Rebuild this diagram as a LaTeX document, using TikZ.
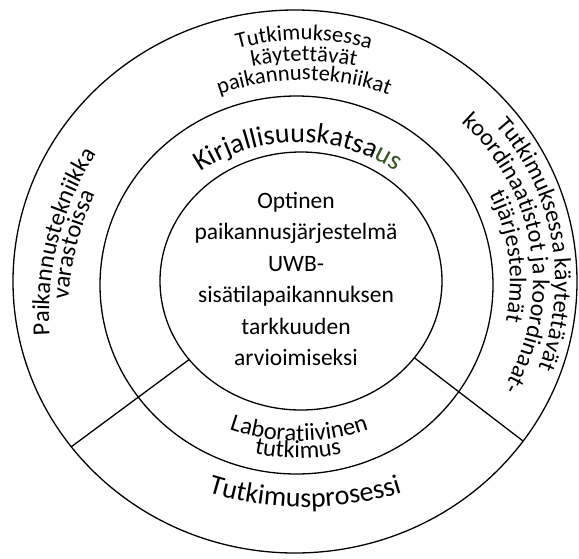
\documentclass[tikz,border=0pt]{standalone}
\usepackage{fontspec}
\setmainfont{Carlito}
\usetikzlibrary{decorations.text,calc}
\definecolor{kgreen}{RGB}{56,87,35}
\newcommand\fsz[1]{\fontsize{#1}{#1}\selectfont}
\begin{document}
\begin{tikzpicture}[x=1pt,y=1pt,
  ring/.style={line width=1.3pt},
  arctext/.style={decorate, decoration={text along path, text align=center, text={#1}}},
  ctext/.style={anchor=base, inner sep=0pt, font=\fsz{23.5}}]
\useasboundingbox (0,0) rectangle (579,-558);
% ellipse centres
\coordinate (O) at (295,-281.5);
\coordinate (M) at (296.5,-285);
\coordinate (I) at (301,-281);
\draw[ring] (O) ellipse [x radius=282, y radius=271.5];
\draw[ring] (M) ellipse [x radius=196.5, y radius=189];
\draw[ring] (I) ellipse [x radius=141, y radius=129];
% dividing lines
\coordinate (la) at ($(I)+(217.5:141 and 129)$);
\coordinate (lb) at ($(O)+(217.5:282 and 271.5)$);
\coordinate (ra) at ($(I)+(-36.5:141 and 129)$);
\coordinate (rb) at ($(O)+(-36:282 and 271.5)$);
\draw[ring] (la) -- (lb);
\draw[ring] (ra) -- (rb);
% top outer text
\coordinate (cT1) at (304,-290);
\coordinate (cT2) at (304,-321);
\coordinate (cT3) at (304,-330);
\path[arctext={|\fsz{22.5}|Tutkimuksessa}] ($(cT1)+(125:250)$) arc[start angle=125, end angle=55, radius=250];
\path[arctext={|\fsz{22.5}|käytettävät}] ($(cT2)+(125:260)$) arc[start angle=125, end angle=55, radius=260];
\path[arctext={|\fsz{22.5}|paikannustekniikat}] ($(cT3)+(130:250)$) arc[start angle=130, end angle=50, radius=250];
% left outer text
\coordinate (cL) at (346,-315);
\path[arctext={|\fsz{24.5}|Paikannustekniikka}] ($(cL)+(196:297)$) arc[start angle=196, end angle=135, radius=297];
\path[arctext={|\fsz{24.5}|varastoissa}] ($(cL)+(196:278)$) arc[start angle=196, end angle=135, radius=278];
% right outer text
\coordinate (cR) at (321,-281);
\path[arctext={|\fsz{24}|Tutkimuksessa käytettävät}] ($(cR)+(60:234)$) arc[start angle=60, end angle=-40, radius=234];
\path[arctext={|\fsz{24}|koordinaatistot ja koordinaat-}] ($(cR)+(60:212)$) arc[start angle=60, end angle=-42, radius=212];
\path[arctext={|\fsz{24}|tijärjestelmät}] ($(cR)+(55:189)$) arc[start angle=55, end angle=-40, radius=189];
% middle ring text
\coordinate (cK) at (298,-317);
\path[arctext={|\fsz{28}|Kirjallisuuskatsa|\fsz{28}\color{kgreen}|us}] ($(cK)+(145:175)$) arc[start angle=145, end angle=35, radius=175];
\coordinate (cLab) at (299,-231);
\coordinate (cTut) at (298,-238);
\path[arctext={|\fsz{24.5}|Laboratiivinen}] ($(cLab)+(225:210)$) arc[start angle=225, end angle=315, radius=210];
\path[arctext={|\fsz{24.5}|tutkimus}] ($(cTut)+(240:220)$) arc[start angle=240, end angle=300, radius=220];
% outer bottom text
\coordinate (cP) at (305,-177);
\path[arctext={|\fsz{28}|Tutkimusprosessi}] ($(cP)+(235:330)$) arc[start angle=235, end angle=305, radius=330];
% centre text
\node[ctext] (c1) at (296,-208) {Optinen};
\node[ctext] (c2) at (296,-239.5) {paikannusjärjestelmä};
\node[ctext] (c3) at (296,-271) {UWB-};
\node[ctext] (c4) at (296,-302.5) {sisätilapaikannuksen};
\node[ctext] (c5) at (296,-334) {tarkkuuden};
\node[ctext] (c6) at (296,-365.5) {arvioimiseksi};
\end{tikzpicture}
\end{document}
